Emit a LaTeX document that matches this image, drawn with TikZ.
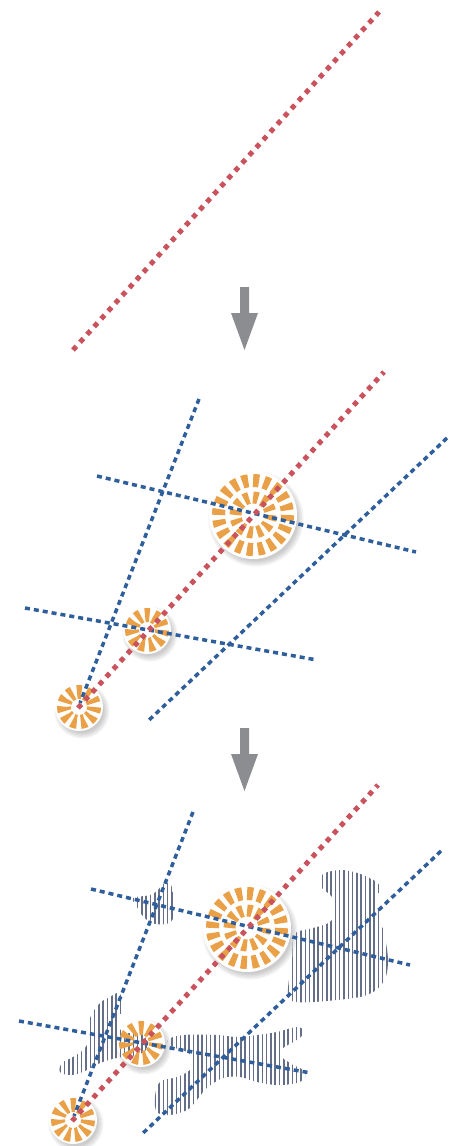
\documentclass[tikz,border=0pt]{standalone}
\usepackage{tikz}
\usetikzlibrary{calc,patterns.meta}

\definecolor{dotred}{RGB}{201,82,92}
\definecolor{dashblue}{RGB}{46,94,155}
\definecolor{ringorange}{RGB}{233,160,70}
\definecolor{arrowgray}{RGB}{140,141,145}
\definecolor{hatchgray}{RGB}{100,110,135}

\tikzset{
  red dots/.style={draw=dotred,line width=5pt,dash pattern=on 5pt off 5.5pt},
  blue dashes/.style={draw=dashblue,line width=3.5pt,dash pattern=on 5pt off 4pt},
  outer ring/.style={draw=ringorange,line width=13pt,dash pattern=on 6pt off 4.84pt},
  inner ring/.style={draw=ringorange,line width=12pt,dash pattern=on 5pt off 4.16pt},
  small ring/.style={draw=ringorange,line width=14pt,dash pattern=on 4.6pt off 3.97pt},
  hatched/.style={pattern={Lines[angle=90,distance=4.3pt,line width=1.5pt]},pattern color=hatchgray},
  step arrow/.pic={
    \fill[arrowgray] (-4.5,0) -- (4.5,0) -- (4.5,26) -- (13.5,26) -- (0,63)
      -- (-13.5,26) -- (-4.5,26) -- cycle;}
}

% white disc with a soft shadow
\newcommand\spotdisc[2]{%
  \foreach \k in {0,...,4}
    \fill[black,opacity=.045] ($(#1)+(3,4)$) circle ({#2-2+\k*1.4});
  \fill[white] (#1) circle (#2);}

% lines and circles of one stage, #2 goes between discs and rings
\newcommand\stagepanel[2]{%
  \begin{scope}[shift={#1}]
    \coordinate (a1) at (193,812); \coordinate (a2) at (74,1116);
    \coordinate (b1) at (441,851); \coordinate (b2) at (141,1135);
    \coordinate (c1) at (91,889);  \coordinate (c2) at (410,965);
    \coordinate (d1) at (19,1021); \coordinate (d2) at (311,1073);
    \coordinate (r1) at (72,1121); \coordinate (r2) at (378,785);
    \coordinate (big) at (247,928);
    \coordinate (mid) at (141,1043);
    \coordinate (low) at (73,1120);
    \spotdisc{big}{44}
    \spotdisc{mid}{24}
    \spotdisc{low}{24}
    #2
    \draw[outer ring] (big) circle (34.5);
    \draw[inner ring] (big) circle (17.5);
    \draw[small ring] (mid) circle (15);
    \draw[small ring] (low) circle (15);
    \draw[blue dashes] (a1) -- (a2);
    \draw[blue dashes] (b1) -- (b2);
    \draw[blue dashes] (c1) -- (c2);
    \draw[blue dashes] (d1) -- (d2);
    \draw[red dots] (r1) -- (r2);
  \end{scope}}

\begin{document}
\begin{tikzpicture}[x=1pt,y=-1pt]
  \useasboundingbox (0,0) rectangle (459,1146);
  % first stage: the track alone
  \coordinate (t1) at (73,350);
  \coordinate (t2) at (379,12);
  \draw[red dots] (t1) -- (t2);
  \pic at (244.5,287) {step arrow};
  % second stage
  \stagepanel{(6,-413)}{}
  \pic at (244.5,728) {step arrow};
  % third stage with hatched areas
  \stagepanel{(0,0)}{
    \path[hatched] plot[smooth cycle,tension=.6] coordinates {
      (133,898) (150,895) (158,890) (163,884) (170,883) (173,893)
      (176,905) (174,918) (166,924) (152,923) (142,915) (136,905)};
    \path[hatched] plot[smooth cycle,tension=.6] coordinates {
      (320,880) (322,888) (332,897) (335,910) (330,922) (313,928)
      (297,932) (293,940) (292,960) (288,993) (297,1002) (337,1000)
      (367,995) (383,983) (388,963) (385,937) (380,917) (378,897)
      (380,885) (363,875) (343,870) (325,873)};
    \path[hatched] plot[smooth cycle,tension=.6] coordinates {
      (110,997) (117,993) (122,996) (122,1005) (120,1022) (123,1032)
      (143,1035) (147,1048) (137,1055) (117,1058) (100,1063) (83,1072)
      (70,1075) (60,1072) (62,1063) (73,1057) (85,1048) (90,1035)
      (90,1018) (100,1003)};
    \path[hatched] plot[smooth cycle,tension=.6] coordinates {
      (168,1040) (183,1035) (217,1035) (237,1037) (257,1035) (277,1032)
      (297,1027) (304,1032) (297,1040) (283,1048) (280,1055) (290,1063)
      (303,1070) (305,1077) (297,1083) (277,1085) (257,1082) (240,1077)
      (223,1078) (207,1088) (197,1100) (187,1110) (170,1115) (157,1112)
      (155,1097) (160,1082) (177,1077) (190,1070) (193,1060) (187,1052)
      (173,1047)};
  }
\end{tikzpicture}
\end{document}
